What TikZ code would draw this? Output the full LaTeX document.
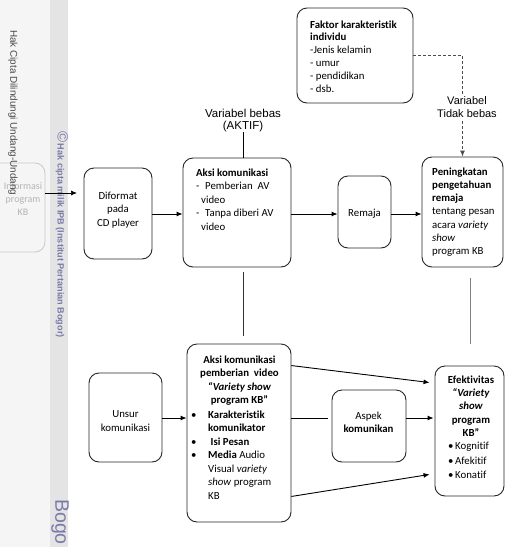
\documentclass[tikz,border=0pt]{standalone}
\usepackage{fontspec}
\setmainfont{Carlito}[Ligatures={TeX,NoCommon}]
\newfontfamily\arialf{Liberation Sans}
\usetikzlibrary{arrows.meta}
\definecolor{wmbg}{HTML}{F5F5F5}
\definecolor{wmband}{HTML}{E4E4E4}
\definecolor{wmpurple}{HTML}{7A7AA8}
\definecolor{ghostline}{HTML}{C8C8C8}
\definecolor{ghosttxt}{HTML}{B4B4B4}
\definecolor{wmtext}{HTML}{4A4A4A}
\tikzset{
  box/.style={draw=black!85, line width=0.9pt, rounded corners=10pt, inner sep=0pt},
  txt/.style={inner sep=0pt, font=\fontsize{10.8}{13.5}\selectfont},
  lab/.style={inner sep=0pt, align=center, font=\arialf\fontsize{11.5}{12.5}\selectfont},
  arr/.style={line width=0.9pt, -{Latex[length=6pt,width=5pt]}},
  conn/.style={line width=0.9pt},
  dashline/.style={line width=0.9pt, draw=black!70, dash pattern=on 3pt off 2pt, -{Latex[length=6pt,width=5pt]}},
  wmtxt/.style={inner sep=0pt, font=\arialf\fontsize{9.9}{10}\selectfont, text=wmtext},
  wmpur/.style={inner sep=0pt, text=wmpurple},
}
\begin{document}
\begin{tikzpicture}[x=1pt,y=-1pt]
\useasboundingbox (0,0) rectangle (505,547);
\fill[white] (0,0) rectangle (505,547);
% ---- watermark margin ----
\fill[wmbg] (0,0) rectangle (50,547);
\fill[wmband] (50,0) rectangle (68,547);
\begin{scope}
  \clip (0,0) rectangle (50,547);
  \node[draw=ghostline, line width=0.8pt, rounded corners=10pt, minimum width=70pt, minimum height=89pt, inner sep=0pt] (ghost) at (10,207.5) {};
\end{scope}
\node[inner sep=0pt, align=center, text=ghosttxt, font=\fontsize{10}{13}\selectfont] (ghostT) at (23,199) {Informasi\\program\\KB};
\node[wmtxt, rotate=-90, anchor=west] (hak) at (13,30) {Hak Cipta Dilindungi Undang-Undang};
\node[wmpur, rotate=-90, anchor=west] (ipb) at (62,131) {{\arialf\fontsize{15}{15}\selectfont ©}\,{\arialf\bfseries\fontsize{9.1}{10}\selectfont Hak cipta milik IPB (Institut Pertanian Bogor)}};
\node[wmpur, rotate=-90, anchor=west, font=\arialf\fontsize{19.5}{20}\selectfont] (bogo) at (60,499) {Bogo};
\coordinate (ga) at (0,193);
\coordinate (gaE) at (77,193);
\draw[arr, line width=0.7pt] (ghost.east |- ga) -- (gaE);
% ---- boxes ----
\node[box, minimum width=116pt, minimum height=95pt] (faktor) at (355,55.5) {};
\node[box, minimum width=81pt, minimum height=110pt] (pen) at (462.5,212) {};
\node[box, minimum width=53pt, minimum height=72pt] (remaja) at (364.5,212) {};
\node[box, minimum width=108pt, minimum height=109pt] (aksi1) at (237,212.5) {};
\node[box, minimum width=68pt, minimum height=91pt] (difo) at (118,213.5) {};
\node[box, minimum width=104pt, minimum height=178pt] (aksi2) at (239,433) {};
\node[box, minimum width=73pt, minimum height=89pt] (unsur) at (125.5,417.5) {};
\node[box, minimum width=74pt, minimum height=72pt] (aspek) at (369,426) {};
\node[box, minimum width=69pt, minimum height=130pt] (efek) at (469.5,431) {};
% ---- texts ----
\node[txt, anchor=north west, align=left, font=\fontsize{10.8}{12.8}\selectfont] (faktorT) at (310,20.3)
  {\textbf{Faktor karakteristik}\\\textbf{individu}\\-Jenis kelamin\\- umur\\- pendidikan\\- dsb.};
\node[txt, anchor=north west, align=left, font=\fontsize{10.8}{13.3}\selectfont] (penT) at (432,167.3)
  {\textbf{Peningkatan}\\\textbf{pengetahuan}\\\textbf{remaja}\\tentang pesan\\acara \textit{variety}\\\textit{show}\\program KB};
\node[txt, anchor=center] (remajaT) at (364.5,214.2) {Remaja};
\node[txt, anchor=north west, align=left] (aksi1T) at (196,168.3)
  {\textbf{Aksi komunikasi}\\\makebox[9pt][l]{-}Pemberian\ \ AV\\\hspace*{5pt}video\\\makebox[9pt][l]{-}Tanpa diberi AV\\\hspace*{5pt}video};
\node[txt, align=center] (difoT) at (118,209.7) {Diformat\\pada\\CD player};
\node[txt, anchor=north, align=center] (aksi2H) at (239.5,355.3)
  {\textbf{Aksi komunikasi}\\\textbf{pemberian\ \ video}\\\textbf{\textit{“Variety show}}\\\textbf{program KB”}};
\node[txt, anchor=north west, align=left] (aksi2L) at (191,410.3)
  {\makebox[17pt][l]{\textbullet}\textbf{Karakteristik}\\\hspace*{17pt}\textbf{komunikator}\\\makebox[17pt][l]{\textbullet}\ \textbf{Isi Pesan}\\\makebox[17pt][l]{\textbullet}\textbf{Media} Audio\\\hspace*{17pt}Visual \textit{variety}\\\hspace*{17pt}\textit{show} program\\\hspace*{17pt}KB};
\node[txt, align=center] (unsurT) at (125.5,421) {Unsur\\komunikasi};
\node[txt, align=center] (aspekT) at (368.5,422.4) {Aspek\\\textbf{komunikan}};
\node[txt, anchor=north, align=center, font=\fontsize{10.8}{13.4}\selectfont] (efekH) at (471,375.3)
  {\textbf{Efektivitas}\\\textbf{\textit{“Variety}}\\\textbf{\textit{show}}\\\textbf{program}\\\textbf{KB”}};
\node[txt, anchor=north west, align=left, font=\fontsize{10.8}{14.2}\selectfont] (efekL) at (448,442.3)
  {\makebox[7pt][l]{\textbullet}Kognitif\\\makebox[7pt][l]{\textbullet}Afekitif\\\makebox[7pt][l]{\textbullet}Konatif};
% ---- labels ----
\node[lab] (vbebas) at (243,120.5) {Variabel bebas\\(AKTIF)};
% ---- connectors ----
\coordinate (rowA) at (0,214);
\coordinate (rowB) at (0,418);
\draw[arr] (difo.east |- rowA) -- (aksi1.west |- rowA);
\draw[arr] (aksi1.east |- rowA) -- (remaja.west |- rowA);
\draw[arr] (remaja.east |- rowA) -- (pen.west |- rowA);
\draw[arr] (unsur.east |- rowB) -- (aksi2.west |- rowB);
\draw[conn] (aksi2.east |- rowB) -- ([xshift=-4pt]aspek.west |- rowB);
\draw[arr] (aspek.east |- rowB) -- ([xshift=-1pt]efek.west |- rowB);
\draw[arr] ([yshift=-22pt]aksi2.north east) -- ([xshift=-5pt,yshift=-17pt]efek.north west);
\draw[arr] ([yshift=26pt]aksi2.south east) -- ([xshift=-5pt,yshift=22pt]efek.south west);
\draw[conn] (vbebas.south) -- (vbebas.south |- aksi1.north);
\draw[conn, draw=black!80] ([yshift=-5pt]aksi1.south -| vbebas.south) -- ([yshift=8pt]aksi2.north -| vbebas.south);
\coordinate (penl) at (470,344);
\draw[conn, draw=black!50] ([yshift=-11pt]pen.south -| penl) -- (penl);
\draw[dashline] (faktor.east) -| (pen.north);
\node[lab, fill=white, inner sep=2pt, font=\arialf\fontsize{11}{12.3}\selectfont] (vtb) at (467,107) {Variabel\\Tidak bebas};
\end{tikzpicture}
\end{document}
